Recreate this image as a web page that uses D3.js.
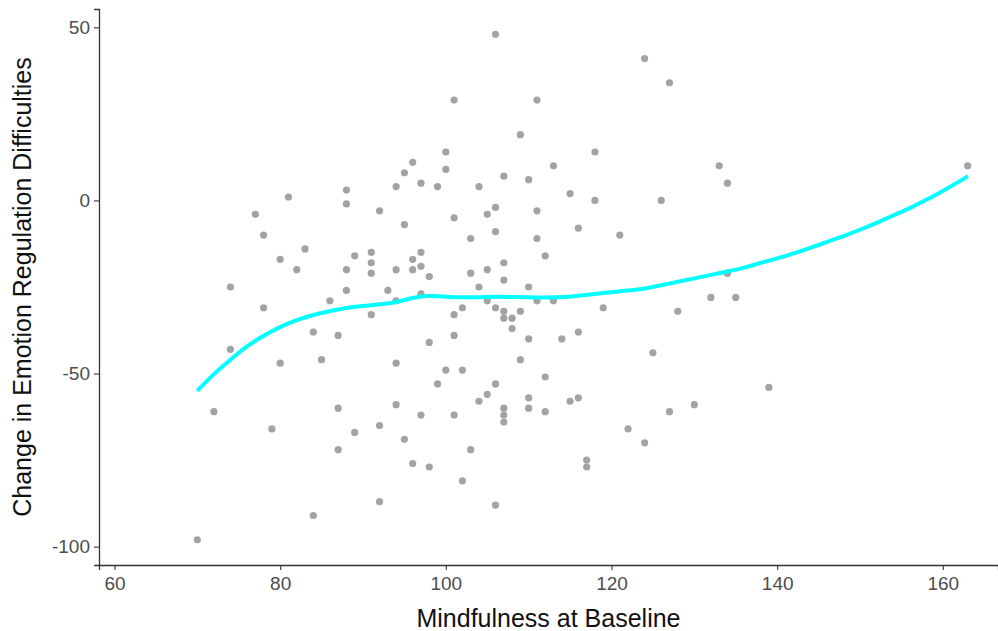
<!DOCTYPE html>
<html>
<head>
	<meta charset="utf-8" />
	<title>Mindfulness vs Emotion Regulation</title>
	<script src="https://cdnjs.cloudflare.com/ajax/libs/d3/7.8.5/d3.min.js"></script>
	<style>
		body { margin: 0; background: #fff; }
		svg { display: block; }
		.tick text { font-family: "Liberation Sans", Arial, sans-serif; }
	</style>
</head>
<body>
	<div id="chart"></div>
	<script>
		// mindfulness at baseline (x) and change in difficulties (y), one per participant
		const mindfulness = [
			81, 88, 88, 77, 78, 83, 80, 82, 88, 74, 88, 86, 78, 84, 87, 74, 80, 85, 72, 79, 87, 87, 84, 70,
			106, 101, 100, 100, 96, 95, 97, 94, 99, 104, 92, 95, 101, 105, 106, 106, 103,
			89, 91, 91, 91, 94, 96, 97, 97, 96, 98, 103, 105, 104, 93, 94, 97, 105, 106, 102, 101, 91,
			101, 98, 94, 100, 102, 99, 106, 105, 104, 94, 97, 101, 92, 89, 95, 103, 96, 98, 102, 92, 106,
			124, 111, 109, 118, 113, 107, 110, 115, 118, 111, 111, 116, 121, 112, 107, 107, 110, 111, 113,
			107, 107, 108, 109, 108, 119, 110, 114, 116, 125, 109, 112, 110, 110, 112, 107, 107, 107,
			115, 116, 122, 124, 117, 117,
			127, 133, 134, 126, 163, 134, 132, 135, 128, 139, 130, 127
		];
		const change = [
			1, 3, -1, -4, -10, -14, -17, -20, -20, -25, -26, -29, -31, -38, -39, -43, -47, -46, -61, -66, -60, -72, -91, -98,
			48, 29, 14, 9, 11, 8, 5, 4, 4, 4, -3, -7, -5, -4, -2, -9, -11,
			-16, -15, -18, -21, -20, -17, -15, -19, -20, -22, -21, -20, -25, -26, -29, -27, -29, -31, -31, -33, -33,
			-39, -41, -47, -49, -49, -53, -53, -56, -58, -59, -62, -62, -65, -67, -69, -72, -76, -77, -81, -87, -88,
			41, 29, 19, 14, 10, 7, 6, 2, 0, -3, -11, -8, -10, -16, -18, -23, -25, -29, -29,
			-32, -34, -34, -32, -37, -31, -40, -40, -38, -44, -46, -51, -57, -60, -61, -60, -62, -64,
			-58, -57, -66, -70, -75, -77,
			34, 10, 5, 0, 10, -21, -28, -28, -32, -54, -59, -61
		];

		// smoothed trend
		const fitX = [70, 72, 74, 76, 78, 80, 82, 84, 86, 88, 90, 92, 94, 96, 98, 100, 102, 104, 106, 108, 110,
			112, 114, 116, 118, 120, 122, 124, 126, 128, 130, 132, 134, 136, 138, 140, 142, 144, 146, 148,
			150, 152, 154, 156, 158, 160, 162, 163];
		const fitY = [-55, -50, -46, -42, -39, -36.5, -34.5, -33, -32, -31, -30.5, -30, -29.5, -28, -27.5, -27.8,
			-28, -28, -27.8, -27.9, -28, -28, -28, -27.5, -27, -26.5, -26, -25.5, -24.5, -23.5, -22.5, -21.5,
			-20.5, -19.5, -18, -16.8, -15.3, -13.7, -12, -10.3, -8.5, -6.5, -4.3, -2.3, 0.2, 2.7, 5.5, 7];

		const xTicks = [60, 80, 100, 120, 140, 160];
		const yTicks = [50, 0, -50, -100];

		const width = 998, height = 631;
		const margin = { top: 9, right: 0, bottom: 66, left: 99 };

		const svg = d3.select("#chart").append("svg")
			.attr("width", width)
			.attr("height", height);

		const x = d3.scaleLinear().domain([58.13, 166.66]).range([margin.left, width - margin.right]);
		const y = d3.scaleLinear().domain([-105.3, 55.3]).range([height - margin.bottom, margin.top]);

		const xAxis = svg.append("g")
			.attr("transform", "translate(0," + (height - margin.bottom) + ")")
			.call(d3.axisBottom(x).tickValues(xTicks).tickSize(5).tickPadding(7));
		const yAxis = svg.append("g")
			.attr("transform", "translate(" + margin.left + ",0)")
			.call(d3.axisLeft(y).tickValues(yTicks).tickSize(5).tickPadding(4).tickFormat(d3.format("d")));

		[xAxis, yAxis].forEach(g => {
			g.select(".domain").attr("stroke", "#333").attr("stroke-width", 1.3);
			g.selectAll(".tick line").attr("stroke", "#333").attr("stroke-width", 1.1);
			g.selectAll(".tick text").attr("fill", "#4d4d4d").style("font-size", "19px");
		});
		// plain hyphen like R prints
		yAxis.selectAll(".tick text").text(d => String(d));

		const pts = mindfulness.map((m, i) => ({ x: m, y: change[i] }));
		svg.append("g")
			.selectAll("circle")
			.data(pts)
			.join("circle")
			.attr("cx", d => x(d.x))
			.attr("cy", d => y(d.y))
			.attr("r", 3.6)
			.attr("fill", "#a3a3a3");

		const line = d3.line()
			.x(d => x(d[0]))
			.y(d => y(d[1]))
			.curve(d3.curveBasis);
		svg.append("path")
			.datum(fitX.map((v, i) => [v, fitY[i]]))
			.attr("d", line)
			.attr("fill", "none")
			.attr("stroke", "#00ffff")
			.attr("stroke-width", 4);

		svg.append("text")
			.attr("x", (margin.left + width - margin.right) / 2)
			.attr("y", 627)
			.attr("text-anchor", "middle")
			.attr("font-family", "Liberation Sans, Arial, sans-serif")
			.attr("font-size", 25)
			.attr("fill", "#111")
			.text("Mindfulness at Baseline");

		svg.append("text")
			.attr("transform", "translate(31," + ((margin.top + height - margin.bottom) / 2) + ") rotate(-90)")
			.attr("text-anchor", "middle")
			.attr("font-family", "Liberation Sans, Arial, sans-serif")
			.attr("font-size", 25)
			.attr("fill", "#111")
			.text("Change in Emotion Regulation Difficulties");
	</script>
</body>
</html>
